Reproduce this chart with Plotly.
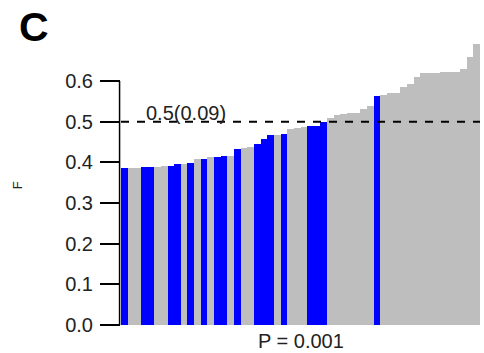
import plotly.graph_objects as go

# Sorted F values per item
f_values = [0.386, 0.386, 0.386, 0.388, 0.388, 0.388, 0.391, 0.391, 0.396, 0.396,
            0.398, 0.408, 0.408, 0.413, 0.413, 0.415, 0.415, 0.433, 0.435, 0.438,
            0.445, 0.457, 0.467, 0.467, 0.470, 0.482, 0.484, 0.487, 0.489, 0.489,
            0.499, 0.509, 0.516, 0.519, 0.521, 0.521, 0.531, 0.538, 0.563, 0.566,
            0.570, 0.570, 0.585, 0.593, 0.610, 0.620, 0.620, 0.620, 0.622, 0.622,
            0.622, 0.629, 0.659, 0.691]
highlighted = [0, 3, 4, 7, 8, 10, 12, 14, 15, 17, 20, 21, 22, 24, 28, 29, 30, 38]
y_ticks = [0.0, 0.1, 0.2, 0.3, 0.4, 0.5, 0.6]
threshold = 0.5
threshold_label = "0.5(0.09)"
p_label = "P = 0.001"
panel_label = "C"
y_label = "F"

x = list(range(len(f_values)))
colors = ["#0000FF" if i in highlighted else "#BEBEBE" for i in x]

fig = go.Figure()
fig.add_trace(go.Bar(x=x, y=f_values, marker=dict(color=colors, line=dict(width=0)),
                     width=1.0, showlegend=False, hoverinfo="skip"))

font = "Liberation Sans, Arial, Helvetica, sans-serif"

fig.add_shape(type="line", xref="paper", yref="y", x0=0, x1=1, y0=threshold, y1=threshold,
              line=dict(color="black", width=2, dash="8px,8px"), layer="above")
fig.add_shape(type="line", xref="paper", yref="y", x0=-0.004, x1=-0.004, y0=0, y1=0.6,
              line=dict(color="black", width=1.5), layer="above")

fig.add_annotation(text=threshold_label, xref="paper", yref="y", x=0.065, y=threshold,
                   xanchor="left", yanchor="middle", yshift=9, showarrow=False,
                   font=dict(family=font, size=20, color="#222"))
fig.add_annotation(text=p_label, xref="paper", yref="paper", x=0.5, y=-0.056,
                   xanchor="center", yanchor="middle", showarrow=False,
                   font=dict(family=font, size=20, color="#222"))
fig.add_annotation(text="<b>" + panel_label + "</b>", xref="paper", yref="paper",
                   x=-0.243, y=1.045, xanchor="center", yanchor="middle", showarrow=False,
                   font=dict(family=font, size=41, color="black"))
fig.add_annotation(text=y_label, xref="paper", yref="paper", x=-0.29, y=0.49,
                   xanchor="center", yanchor="middle", textangle=-90, showarrow=False,
                   font=dict(family=font, size=13, color="#222"))

fig.update_layout(
    width=484, height=353,
    margin=dict(l=120.5, r=4, t=40, b=28),
    paper_bgcolor="white", plot_bgcolor="white",
    bargap=0,
    xaxis=dict(range=[-0.5, len(f_values) - 0.5], showgrid=False, zeroline=False,
               showticklabels=False, ticks="", showline=False),
    yaxis=dict(range=[0, 0.7008], tickvals=y_ticks, ticktext=[f"{v:.1f}" for v in y_ticks],
               ticks="outside", ticklen=20, tickwidth=1.5, tickcolor="black",
               ticklabelstandoff=3,
               showgrid=False, zeroline=False, showline=False,
               tickfont=dict(family=font, size=20, color="#222")),
)

fig.write_html("out.html", config={"displayModeBar": False},
               post_script="document.body.style.margin='0';document.body.style.overflow='hidden';")
